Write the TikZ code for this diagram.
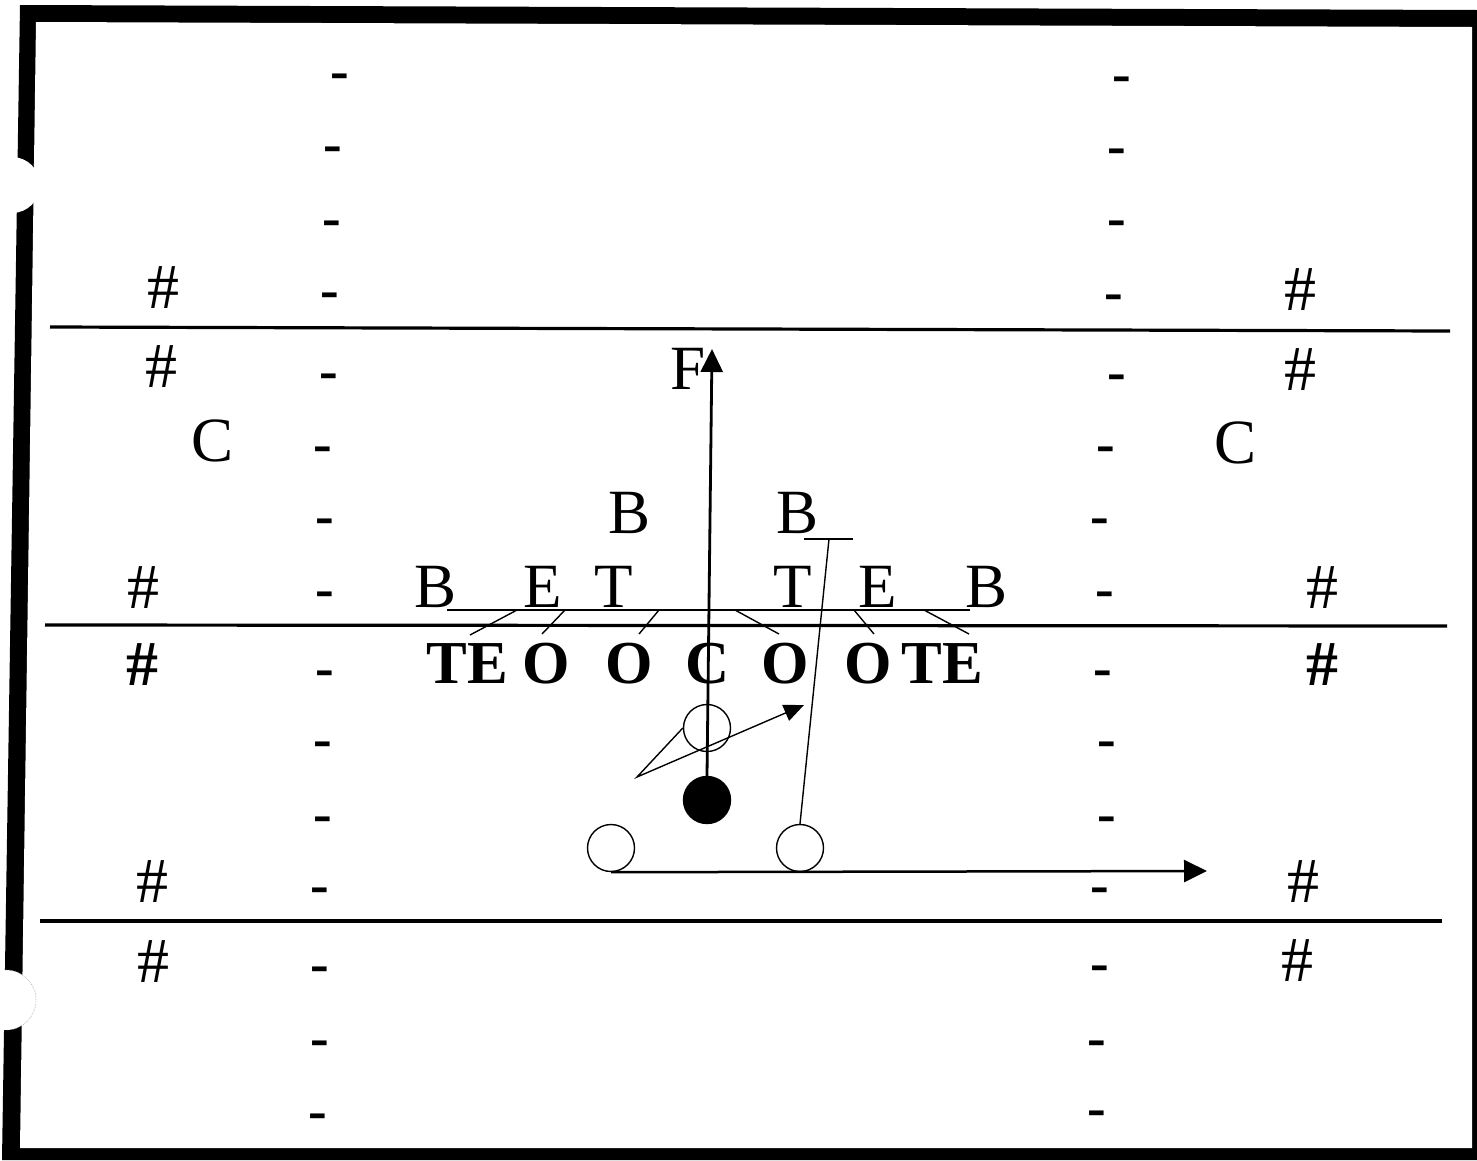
\documentclass[tikz,border=0pt]{standalone}
\usepackage{fontspec}
\setmainfont{Liberation Serif}
\usetikzlibrary{arrows.meta}
\begin{document}
\begin{tikzpicture}[x=1pt,y=-1pt,
  lbl/.style={inner sep=0pt,font=\fontsize{63}{63}\selectfont},
  blbl/.style={inner sep=0pt,font=\fontsize{61}{61}\selectfont\bfseries},
  hashm/.style={inner sep=0pt,font=\fontsize{64}{64}\selectfont},
  bhashm/.style={inner sep=0pt,font=\fontsize{64}{64}\selectfont\bfseries},
  dashm/.style={inner sep=0pt,yshift=-7pt,font=\fontsize{56}{56}\selectfont\bfseries},
  yard/.style={line width=3.2pt},
  thinln/.style={line width=1.4pt},
  plr/.style={circle,draw,line width=1.4pt,minimum size=47pt,inner sep=0pt},
  bigtip/.style={-{Triangle[length=23pt,width=22pt]}},
  smalltip/.style={-{Triangle[length=20pt,width=17pt]}}
]
\useasboundingbox (0,0) rectangle (1477,1160);
\fill[white] (0,0) rectangle (1477,1160);
% page border
\fill[black] (20,5) -- (1477,10) -- (1477,1160) -- (2,1160) -- cycle;
\fill[white] (36,22) -- (1472,27) -- (1472,1148) -- (20,1148) -- cycle;
\fill[white] (12,185) circle (28);
\fill[white] (6,1000) circle (30);
\draw[gray!70,densely dotted,line width=0.6pt] (6,970) arc (-90:90:30);
% yard lines
\draw[yard] (50,327) -- (1450,331);
\draw[yard] (45,625) -- (1447,626);
\draw[yard] (40,921) -- (1442,921);
% hash dashes
\foreach \x/\y [count=\i] in {340/75,333/148,332/222,330/294,329/375,323/448,325/520,325/593,325/672,323/743,323/818,320/889,320/968,320/1042,318/1115}
  \node[dashm] (dl\i) at (\x,\y) {-};
\foreach \x/\y [count=\i] in {1122/78,1117/150,1117/222,1114/296,1117/376,1106/448,1100/520,1105/593,1103/672,1107/743,1107/818,1100/889,1100/967,1097/1042,1097/1112}
  \node[dashm] (dr\i) at (\x,\y) {-};
% number marks
\node[hashm] (hl1) at (163,288) {\#};
\node[hashm] (hl2) at (161,367) {\#};
\node[hashm] (hl3) at (143,588) {\#};
\node[bhashm] (hl4) at (142,665) {\#};
\node[hashm] (hl5) at (152,882) {\#};
\node[hashm] (hl6) at (153,962) {\#};
\node[hashm] (hr1) at (1300,290) {\#};
\node[hashm] (hr2) at (1300,370) {\#};
\node[hashm] (hr3) at (1322,588) {\#};
\node[bhashm] (hr4) at (1322,665) {\#};
\node[hashm] (hr5) at (1303,882) {\#};
\node[hashm] (hr6) at (1297,961) {\#};
% defense
\node[lbl] (cl) at (213,441) {C};
\node[lbl] (cr) at (1235,443) {C};
\node[lbl] (fs) at (688,369) {F};
\node[lbl] (lbl1) at (630,513) {B};
\node[lbl] (lbr1) at (797,513) {B};
\node[lbl] (obl) at (436,587) {B};
\node[lbl] (del) at (543,587) {E};
\node[lbl] (dtl) at (614,587) {T};
\node[lbl] (dtr) at (793,587) {T};
\node[lbl] (der) at (878,587) {E};
\node[lbl] (obr) at (986,587) {B};
% offense line
\node[blbl] (tel) at (467,664) {TE};
\node[blbl] (otl) at (546,664) {O};
\node[blbl] (ogl) at (629,664) {O};
\node[blbl] (ctr) at (708,664) {C};
\node[blbl] (ogr) at (785,664) {O};
\node[blbl] (otr) at (868,664) {O};
\node[blbl] (ter) at (942,664) {TE};
% underline and pointers
\coordinate (ulL) at (447,610);
\coordinate (ulR) at (970,610);
\draw[thinln] (ulL) -- (ulR);
\coordinate (p1) at (517,610); \coordinate (q1) at (470,635);
\coordinate (p2) at (565,610); \coordinate (q2) at (542,634);
\coordinate (p3) at (659,610); \coordinate (q3) at (639,634);
\coordinate (p4) at (735,610); \coordinate (q4) at (779,634);
\coordinate (p5) at (854,610); \coordinate (q5) at (874,634);
\coordinate (p6) at (924,610); \coordinate (q6) at (969,634);
\foreach \i in {1,...,6} \draw[thinln] (p\i) -- (q\i);
% backfield
\node[plr] (qb) at (707,728) {};
\node[plr,fill=black] (rb) at (707,800) {};
\node[plr] (wl) at (611,848) {};
\node[plr] (wr) at (800,848) {};
% routes
\coordinate (ftip) at (712,349);
\draw[line width=2.8pt,bigtip] (rb.north) -- (ftip);
\coordinate (vapex) at (637,777);
\coordinate (vtip) at (804,705);
\draw[thinln,smalltip] (qb.west) -- (vapex) -- (vtip);
\coordinate (htip) at (1207,871);
\draw[line width=2.5pt,bigtip] (wl.south) -- (htip);
\coordinate (bbarL) at (804,539);
\coordinate (bbarR) at (853,539);
\coordinate (bbarM) at (829,539);
\draw[thinln] (bbarL) -- (bbarR);
\draw[thinln] (bbarM) -- (wr.north);
\end{tikzpicture}
\end{document}
